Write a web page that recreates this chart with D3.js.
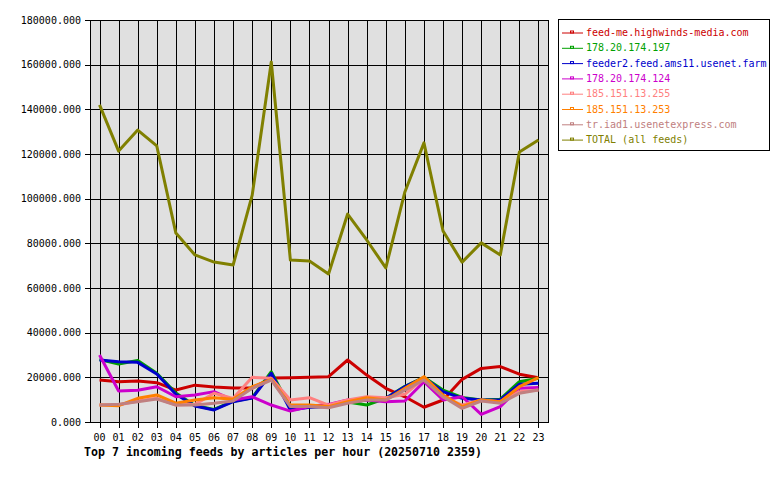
<!DOCTYPE html>
<html>
<head>
<meta charset="utf-8">
<script src="https://cdn.jsdelivr.net/npm/d3@7"></script>
<style>
  body { margin: 0; background: #fff; }
  text { font-family: "DejaVu Sans Mono", monospace; }
</style>
</head>
<body>
<div id="chart"></div>
<script>
// hourly article counts per feed
const hours = ["00","01","02","03","04","05","06","07","08","09","10","11","12","13","14","15","16","17","18","19","20","21","22","23"]
const feedNames = ["feed-me.highwinds-media.com", "178.20.174.197", "feeder2.feed.ams11.usenet.farm", "178.20.174.124", "185.151.13.255", "185.151.13.253", "tr.iad1.usenetexpress.com", "TOTAL (all feeds)"]
const feedColors = ["#cc0000", "#00a000", "#0000cc", "#cc00cc", "#ff8080", "#ff8000", "#c08080", "#808000"]

const highwinds = [18800, 18050, 18360, 17600, 14300, 16500, 15700, 15200, 15200, 19700, 19850, 20000, 20300, 27760, 21000, 15100, 11300, 6600, 9850, 19100, 24000, 24800, 21400, 19850]
const ip197 = [28000, 26000, 27500, 21800, 13000, 7400, 5600, 9300, 10900, 22500, 6400, 6800, 7000, 9000, 7600, 10600, 16000, 20000, 14300, 11000, 9850, 10200, 18050, 19550]
const ams11 = [27800, 27000, 26700, 21500, 12400, 7200, 5400, 9100, 10700, 21800, 5400, 6600, 6900, 8800, 9850, 10600, 15800, 19850, 13600, 10600, 9850, 9850, 16900, 17300]
const ip124 = [30000, 13900, 14200, 15800, 11300, 12100, 13600, 9850, 11300, 7600, 4900, 6900, 7900, 9850, 9850, 9100, 9400, 18050, 9850, 11300, 3400, 6900, 15100, 15400]
const ip255 = [7600, 7600, 9400, 10600, 7600, 7900, 12850, 10600, 20000, 19550, 9850, 10900, 7600, 9850, 11300, 10900, 12400, 19550, 11300, 7600, 9850, 9100, 13600, 14300]
const ip253 = [7600, 7300, 10600, 12100, 8400, 9850, 10900, 10150, 15800, 19100, 7600, 7600, 6900, 9100, 10900, 9850, 15100, 20300, 12100, 6900, 9850, 9100, 15800, 19850]
const iad1 = [7600, 7900, 9100, 10300, 7600, 7600, 8400, 9400, 15100, 18800, 6900, 6900, 6400, 8400, 9850, 9850, 14300, 18800, 11300, 6100, 9400, 8400, 12850, 14300]
const total = [142000, 121300, 130700, 123600, 84600, 74800, 71600, 70300, 101600, 161200, 72500, 72100, 66300, 93100, 81500, 69000, 103000, 125000, 85500, 71600, 80200, 74800, 120900, 126300]

const yTicks = [0, 20000, 40000, 60000, 80000, 100000, 120000, 140000, 160000, 180000]
const title = "Top 7 incoming feeds by articles per hour (20250710 2359)"

const series = [highwinds, ip197, ams11, ip124, ip255, ip253, iad1, total]

const width = 780, height = 480
const plot = { left: 90, right: 548, top: 20, bottom: 422 }

const svg = d3.select("#chart").append("svg")
    .attr("width", width)
    .attr("height", height)

const x = d3.scalePoint().domain(hours).range([plot.left, plot.right]).padding(0.5)
const y = d3.scaleLinear().domain([0, 180000]).range([plot.bottom, plot.top])

// plot background
svg.append("rect")
    .attr("x", plot.left).attr("y", plot.top)
    .attr("width", plot.right - plot.left).attr("height", plot.bottom - plot.top)
    .attr("fill", "#e0e0e0")

// grid (gnuplot style, crisp 1px)
const grid = svg.append("g").attr("shape-rendering", "crispEdges")
grid.append("g").selectAll("line").data(hours).join("line")
    .attr("x1", d => Math.round(x(d)) + 0.5).attr("x2", d => Math.round(x(d)) + 0.5)
    .attr("y1", plot.top).attr("y2", plot.bottom + 6)
    .attr("stroke", "#000")
grid.append("g").selectAll("line").data(yTicks).join("line")
    .attr("x1", plot.left - 5).attr("x2", plot.right)
    .attr("y1", d => Math.round(y(d)) + 0.5).attr("y2", d => Math.round(y(d)) + 0.5)
    .attr("stroke", "#000")

// frame
grid.append("rect")
    .attr("x", plot.left + 0.5).attr("y", plot.top + 0.5)
    .attr("width", plot.right - plot.left).attr("height", plot.bottom - plot.top)
    .attr("fill", "none").attr("stroke", "#000")

// axis labels
svg.append("g").selectAll("text").data(yTicks).join("text")
    .attr("x", 81).attr("y", d => y(d))
    .attr("dy", "0.35em")
    .attr("text-anchor", "end")
    .attr("font-size", 10)
    .text(d => d3.format(".3f")(d))

svg.append("g").selectAll("text").data(hours).join("text")
    .attr("x", d => x(d)).attr("y", 441)
    .attr("text-anchor", "middle")
    .attr("font-size", 10)
    .text(d => d)

svg.append("text")
    .attr("x", 84).attr("y", 456)
    .attr("font-size", 11.6)
    .attr("font-weight", "bold")
    .text(title)

// lines
const line = d3.line().x((d, i) => x(hours[i])).y(d => y(d))
svg.append("g").selectAll("path").data(series).join("path")
    .attr("d", line)
    .attr("fill", "none")
    .attr("stroke", (d, i) => feedColors[i])
    .attr("stroke-width", 3)
    .attr("stroke-linejoin", "round")

// legend
const legend = svg.append("g")
legend.append("rect")
    .attr("x", 558.5).attr("y", 19.5)
    .attr("width", 211).attr("height", 131)
    .attr("fill", "#fff").attr("stroke", "#000")
    .attr("shape-rendering", "crispEdges")

const item = legend.selectAll("g.item").data(feedNames).join("g")
    .attr("class", "item")
    .attr("transform", (d, i) => `translate(0,${32.5 + i * 15.3})`)
item.append("line")
    .attr("x1", 562).attr("x2", 583).attr("y1", 0.5).attr("y2", 0.5)
    .attr("stroke", (d, i) => feedColors[i])
item.append("rect")
    .attr("x", 570.5).attr("y", -1.5).attr("width", 3).attr("height", 2)
    .attr("fill", "none")
    .attr("stroke", (d, i) => feedColors[i])
item.append("text")
    .attr("x", 586).attr("y", 0)
    .attr("dy", "0.35em")
    .attr("font-size", 10)
    .attr("fill", (d, i) => feedColors[i])
    .text(d => d)
</script>
</body>
</html>
